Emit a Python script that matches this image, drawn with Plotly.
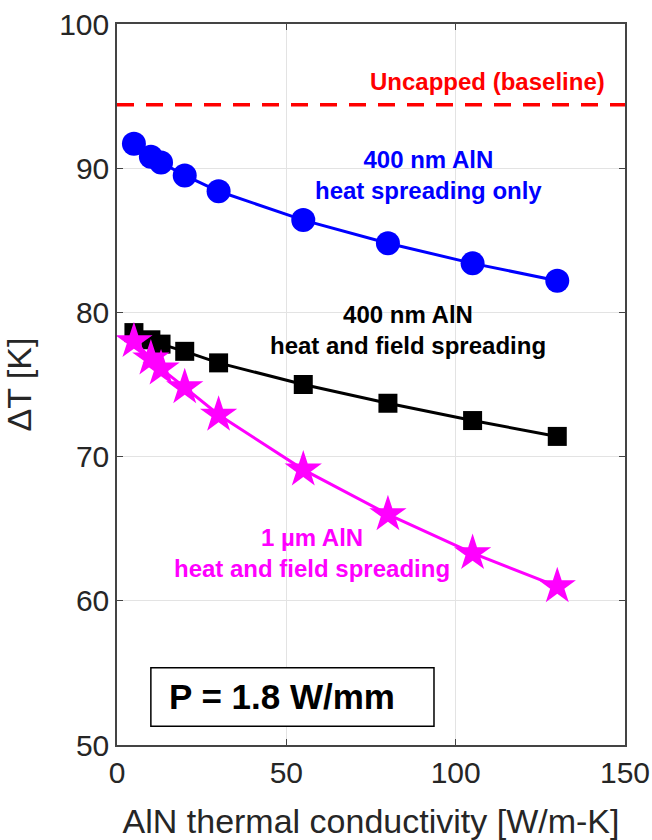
import plotly.graph_objects as go

# Data
k_values = [5, 10, 13, 20, 30, 55, 80, 105, 130]
heat_only_400nm = [91.7, 90.8, 90.4, 89.5, 88.4, 86.4, 84.8, 83.4, 82.2]
heat_field_400nm = [78.6, 78.1, 77.8, 77.3, 76.5, 75.0, 73.7, 72.5, 71.4]
heat_field_1um = [78.0, 76.8, 76.1, 74.8, 72.9, 69.1, 66.0, 63.3, 61.0]
baseline_x = [0, 150]
baseline_y = [94.4, 94.4]

x_ticks = [0, 50, 100, 150]
y_ticks = [50, 60, 70, 80, 90, 100]

FONT = "Liberation Sans, Arial, sans-serif"

fig = go.Figure()

fig.add_trace(go.Scatter(
    x=baseline_x, y=baseline_y, mode="lines",
    line=dict(color="#ff0000", width=3.5, dash="17px,12px"),
    showlegend=False, hoverinfo="skip"))

fig.add_trace(go.Scatter(
    x=k_values, y=heat_only_400nm, mode="lines+markers",
    line=dict(color="#0000ff", width=3),
    marker=dict(symbol="circle", size=24, color="#0000ff"),
    showlegend=False))

fig.add_trace(go.Scatter(
    x=k_values, y=heat_field_400nm, mode="lines+markers",
    line=dict(color="#000000", width=3),
    marker=dict(symbol="square", size=19, color="#000000"),
    showlegend=False))

fig.add_trace(go.Scatter(
    x=k_values, y=heat_field_1um, mode="lines+markers",
    line=dict(color="#ff00ff", width=3),
    marker=dict(symbol="star", size=28, color="#ff00ff"),
    showlegend=False))

ann_font = dict(family=FONT, size=24)

fig.add_annotation(x=109.5, y=96.0, text="<b>Uncapped (baseline)</b>",
                   showarrow=False, font=dict(ann_font, color="#ff0000"))
fig.add_annotation(x=92.1, y=89.5, text="<b>400 nm AlN<br>heat spreading only</b>",
                   showarrow=False, font=dict(ann_font, color="#0000ff"))
fig.add_annotation(x=85.9, y=78.8, text="<b>400 nm AlN<br>heat and field spreading</b>",
                   showarrow=False, font=dict(ann_font, color="#000000"))
fig.add_annotation(x=57.6, y=63.3, text="<b>1 µm AlN<br>heat and field spreading</b>",
                   showarrow=False, font=dict(ann_font, color="#ff00ff"))

# P box
fig.add_shape(type="rect", xref="x", yref="y", x0=10.0, x1=93.6, y0=51.3, y1=55.35,
              line=dict(color="#000000", width=1.5), fillcolor="white", layer="above")
fig.add_annotation(x=14.8, y=53.35, xanchor="left", text="<b>P = 1.8 W/mm</b>",
                   showarrow=False, font=dict(family=FONT, size=35, color="#000000"))

axis_common = dict(
    showgrid=True, gridcolor="#e3e3e3", gridwidth=1,
    showline=True, linecolor="#444444", linewidth=1.5, mirror="allticks",
    ticks="inside", ticklen=6, tickcolor="#444444", tickwidth=1.2,
    zeroline=False, automargin=False,
    tickfont=dict(family=FONT, size=30, color="#262626"),
)

fig.update_xaxes(range=[0, 150], tickvals=x_ticks,
                 title=dict(text="AlN thermal conductivity [W/m-K]",
                            font=dict(family=FONT, size=34, color="#262626"), standoff=22),
                 **axis_common)
fig.update_yaxes(range=[50, 100], tickvals=y_ticks,
                 title=dict(text="ΔT [K]", font=dict(family=FONT, size=34, color="#262626"),
                            standoff=24),
                 **axis_common)

fig.update_layout(
    width=652, height=840,
    margin=dict(l=117, r=27, t=24, b=95),
    plot_bgcolor="white", paper_bgcolor="white",
    showlegend=False,
)

fig.write_html(
    "out.html",
    config={"displayModeBar": False},
    post_script="document.body.style.margin='0';document.body.style.overflow='hidden';",
)
